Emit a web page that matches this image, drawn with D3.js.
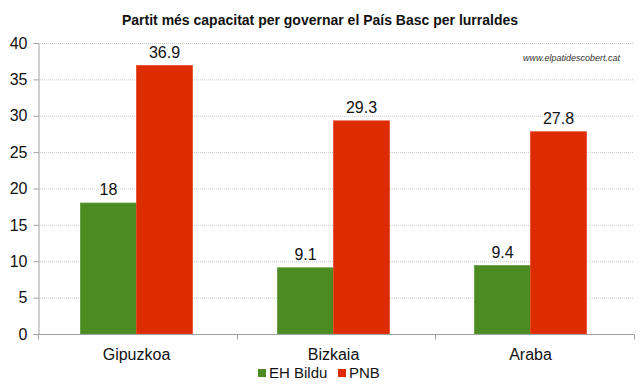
<!DOCTYPE html>
<html>
<head>
<meta charset="utf-8">
<script src="https://cdn.jsdelivr.net/npm/d3@7"></script>
<style>
  body { margin: 0; background: #fff; }
  text { font-family: "Liberation Sans", Arial, sans-serif; }
</style>
</head>
<body>
<svg id="chart"></svg>
<script>
const categories = ['Gipuzkoa', 'Bizkaia', 'Araba'];
const seriesNames = ['EH Bildu', 'PNB'];
const bilduValues = [18, 9.1, 9.4];
const pnbValues = [36.9, 29.3, 27.8];
const yTicks = [0, 5, 10, 15, 20, 25, 30, 35, 40];
const colors = ['#4b8b22', '#dd2c00'];

let w = 640;
let h = 390;

const svg = d3.select('#chart')
  .attr('width', w)
  .attr('height', h)

const x = d3.scaleBand()
  .domain(categories)
  .range([38, 629])

const xInner = d3.scaleBand()
  .domain(seriesNames)
  .range([0, x.bandwidth()])
  .paddingOuter(0.76)

const y = d3.scaleLinear()
  .domain([0, 40])
  .range([334, 43])

// grid
svg.append('g')
  .selectAll('line')
  .data(yTicks.filter(d => d > 0))
  .enter()
  .append('line')
  .attr('x1', 38)
  .attr('x2', 634)
  .attr('y1', d => y(d) + 0.5)
  .attr('y2', d => y(d) + 0.5)
  .attr('stroke', '#c8c8c8')
  .attr('stroke-dasharray', '1,1')

const rows = categories.map((c, i) => ({cat: c, vals: [bilduValues[i], pnbValues[i]]}))

const groups = svg.append('g')
  .selectAll('g')
  .data(rows)
  .enter()
  .append('g')
  .attr('transform', d => `translate(${x(d.cat)},0)`)

groups.selectAll('rect')
  .data(d => d.vals.map((v, j) => ({name: seriesNames[j], v: v, j: j})))
  .enter()
  .append('rect')
  .attr('x', d => xInner(d.name))
  .attr('width', xInner.bandwidth())
  .attr('y', d => y(d.v))
  .attr('height', d => y(0) - y(d.v))
  .attr('fill', d => colors[d.j])
  .attr('stroke', d => d.j === 0 ? '#5c9a36' : '#e8472a')
  .attr('stroke-width', 0.8)

groups.selectAll('text')
  .data(d => d.vals.map((v, j) => ({name: seriesNames[j], v: v})))
  .enter()
  .append('text')
  .attr('x', d => xInner(d.name) + xInner.bandwidth() / 2)
  .attr('y', d => y(d.v) - 8)
  .attr('text-anchor', 'middle')
  .attr('font-size', 16)
  .attr('fill', '#111')
  .text(d => d.v)

// y axis
const yAxis = d3.axisLeft(y)
  .tickValues(yTicks)
  .tickSize(5)
  .tickPadding(6)

const yg = svg.append('g')
  .attr('transform', 'translate(38.5,0)')
  .call(yAxis)
yg.select('.domain').attr('stroke', '#a0a0a0')
yg.selectAll('.tick line').attr('stroke', '#a0a0a0')
yg.selectAll('text').attr('font-size', 16).attr('fill', '#111')
  .style('font-family', '"Liberation Sans", Arial, sans-serif')

// x axis
const xAxis = d3.axisBottom(x)
  .tickSize(0)
  .tickPadding(14)
const xg = svg.append('g')
  .attr('transform', 'translate(0,334.5)')
  .call(xAxis)
xg.select('.domain').attr('d', 'M38,0H634').attr('stroke', '#a0a0a0')
xg.selectAll('text').attr('font-size', 16).attr('fill', '#111')
  .style('font-family', '"Liberation Sans", Arial, sans-serif')
xg.selectAll('.sep')
  .data(d3.range(categories.length + 1))
  .enter()
  .append('line')
  .attr('x1', i => Math.round(38 + i * (634 - 38) / categories.length) + 0.5)
  .attr('x2', i => Math.round(38 + i * (634 - 38) / categories.length) + 0.5)
  .attr('y1', 0)
  .attr('y2', 5)
  .attr('stroke', '#a0a0a0')

// title
svg.append('text')
  .attr('x', 320)
  .attr('y', 25)
  .attr('text-anchor', 'middle')
  .attr('font-size', 14)
  .attr('font-weight', 'bold')
  .attr('fill', '#111')
  .text('Partit més capacitat per governar el País Basc per lurraldes')

svg.append('text')
  .attr('x', 620)
  .attr('y', 61)
  .attr('text-anchor', 'end')
  .attr('font-size', 9)
  .attr('font-style', 'italic')
  .attr('fill', '#333')
  .text('www.elpatidescobert.cat')

// legend
const legendX = [258, 338];
const legend = svg.append('g')
  .selectAll('g')
  .data(seriesNames)
  .enter()
  .append('g')
  .attr('transform', (d, i) => `translate(${legendX[i]},369)`)
legend.append('rect')
  .attr('width', 8)
  .attr('height', 8)
  .attr('fill', (d, i) => colors[i])
legend.append('text')
  .attr('x', 11)
  .attr('y', 9)
  .attr('font-size', 15)
  .attr('fill', '#111')
  .text(d => d)
</script>
</body>
</html>
